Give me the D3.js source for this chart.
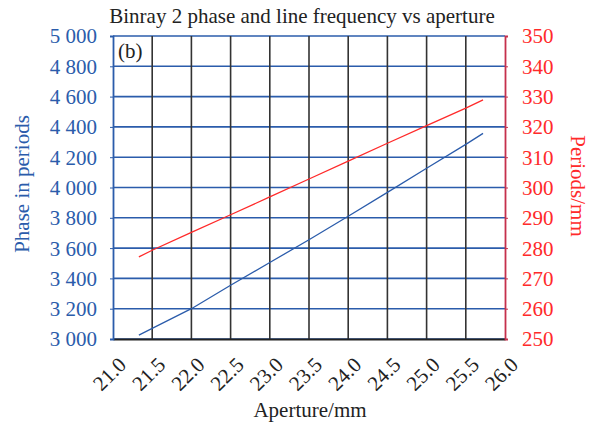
<!DOCTYPE html>
<html>
<head>
<meta charset="utf-8">
<script src="https://cdn.jsdelivr.net/npm/d3@7"></script>
<style>
  body { margin: 0; background: #fff; }
  svg text { font-family: "Liberation Serif", "Times New Roman", serif; }
</style>
</head>
<body>
<div id="graph"></div>
<script>
'use strict';

// aperture (mm) values where the curves were read
const aperture = [21.33, 21.5, 22.0, 22.5, 23.0, 23.5, 24.0, 24.5, 25.0, 25.5, 25.72];
// phase in periods (left axis)
const phase = [3026, 3070, 3200, 3355, 3505, 3655, 3810, 3968, 4127, 4285, 4357];
// line frequency, periods/mm (right axis)
const periods = [277.1, 279.3, 285.2, 291.0, 296.9, 302.8, 308.7, 314.6, 320.4, 326.2, 328.9];

const xTicks = [21.0, 21.5, 22.0, 22.5, 23.0, 23.5, 24.0, 24.5, 25.0, 25.5, 26.0];
const leftTicks = [3000, 3200, 3400, 3600, 3800, 4000, 4200, 4400, 4600, 4800, 5000];
const rightTicks = [250, 260, 270, 280, 290, 300, 310, 320, 330, 340, 350];

(function() {

  const blue = "#2b5cab";
  const red = "#ff2a2a";
  const fs = '21px';

  const svg = d3.select('#graph')
    .append('svg')
    .attr('width', 598)
    .attr('height', 423);

  const pLeft = 113, pRight = 505, pTop = 36, pBottom = 339;

  let xScale = d3.scaleLinear().domain([21, 26]).range([pLeft, pRight]);
  let yLeft = d3.scaleLinear().domain([3000, 5000]).range([pBottom, pTop]);
  let yRight = d3.scaleLinear().domain([250, 350]).range([pBottom, pTop]);

  // horizontal grid (blue)
  svg.append('g')
    .selectAll('line')
    .data(leftTicks)
    .enter()
    .append('line')
      .attr('x1', pLeft)
      .attr('x2', pRight)
      .attr('y1', d => yLeft(d))
      .attr('y2', d => yLeft(d))
      .style('stroke', blue)
      .style('stroke-width', 1.6);

  // vertical grid (dark)
  svg.append('g')
    .selectAll('line')
    .data(xTicks.slice(1, -1))
    .enter()
    .append('line')
      .attr('x1', d => xScale(d))
      .attr('x2', d => xScale(d))
      .attr('y1', pTop)
      .attr('y2', pBottom)
      .style('stroke', '#333')
      .style('stroke-width', 1.6);

  // bottom axis
  let xAxis = d3.axisBottom(xScale).tickValues(xTicks).tickSize(0).tickFormat(d3.format('.1f'));
  let gx = svg.append('g')
    .attr('transform', `translate(0, ${pBottom})`)
    .call(xAxis);
  gx.select('.domain').style('stroke', '#222').style('stroke-width', 1.8);
  gx.selectAll('text')
    .style('font-size', fs)
    .style('fill', '#222')
    .attr('text-anchor', 'end')
    .attr('dy', 0)
    .attr('y', 0)
    .attr('transform', 'translate(14, 27) rotate(-45)');

  // left axis
  let fmt = d => d3.format(',')(d).replace(',', ' ');
  let yAxisL = d3.axisLeft(yLeft).tickValues(leftTicks).tickSize(3).tickFormat(fmt);
  let gl = svg.append('g')
    .attr('transform', `translate(${pLeft}, 0)`)
    .call(yAxisL);
  gl.select('.domain').style('stroke', blue).style('stroke-width', 1.8);
  gl.selectAll('line').style('stroke', blue);
  gl.selectAll('text').style('font-size', fs).style('fill', blue).attr('x', -16).attr('dy', '0.33em');

  // right axis
  let yAxisR = d3.axisRight(yRight).tickValues(rightTicks).tickSize(3);
  let gr = svg.append('g')
    .attr('transform', `translate(${pRight}, 0)`)
    .call(yAxisR);
  gr.select('.domain').style('stroke', '#c5304c').style('stroke-width', 1.8);
  gr.selectAll('line').style('stroke', '#c5304c');
  gr.selectAll('text').style('font-size', fs).style('fill', red).attr('x', 17).attr('dy', '0.33em');

  // data lines
  let phaseLine = d3.line()
    .x((d, i) => xScale(aperture[i]))
    .y(d => yLeft(d));
  svg.append('path')
    .datum(phase)
    .attr('d', phaseLine)
    .style('fill', 'none')
    .style('stroke', blue)
    .style('stroke-width', 1.3);

  let periodLine = d3.line()
    .x((d, i) => xScale(aperture[i]))
    .y(d => yRight(d));
  svg.append('path')
    .datum(periods)
    .attr('d', periodLine)
    .style('fill', 'none')
    .style('stroke', red)
    .style('stroke-width', 1.3);

  // panel tag
  svg.append('text')
    .attr('x', 118)
    .attr('y', 58)
    .style('font-size', fs)
    .style('fill', '#222')
    .text('(b)');

  // title and axes labels
  svg.append('text')
    .attr('x', 302)
    .attr('y', 23)
    .attr('text-anchor', 'middle')
    .style('font-size', fs)
    .style('fill', '#222')
    .text('Binray 2 phase and line frequency vs aperture');

  svg.append('text')
    .attr('x', 310)
    .attr('y', 417)
    .attr('text-anchor', 'middle')
    .style('font-size', fs)
    .style('fill', '#222')
    .text('Aperture/mm');

  svg.append('text')
    .attr('transform', 'translate(29, 184) rotate(-90)')
    .attr('text-anchor', 'middle')
    .style('font-size', fs)
    .style('fill', blue)
    .text('Phase in periods');

  svg.append('text')
    .attr('transform', 'translate(571, 186) rotate(90)')
    .attr('text-anchor', 'middle')
    .style('font-size', fs)
    .style('fill', red)
    .text('Periods/mm');

})();
</script>
</body>
</html>
